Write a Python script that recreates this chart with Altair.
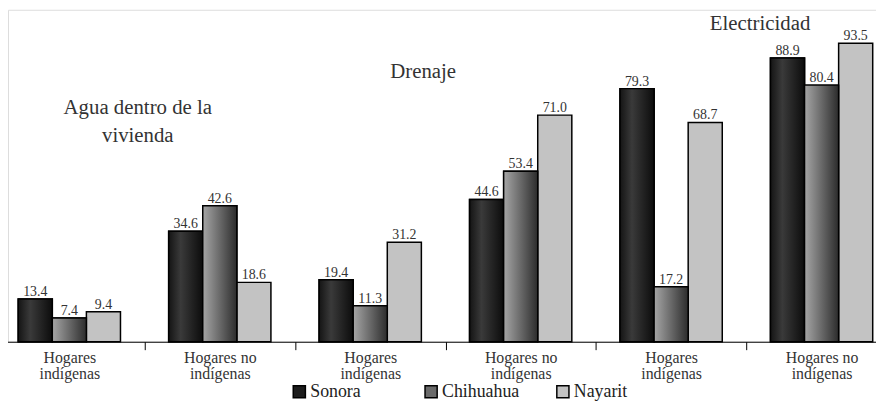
import altair as alt
import pandas as pd

servicios = ["Agua dentro de la vivienda", "Drenaje", "Electricidad"]
hogares = ["Hogares|indígenas", "Hogares no|indígenas"]
estados = ["Sonora", "Chihuahua", "Nayarit"]
# values[servicio][hogar] -> [Sonora, Chihuahua, Nayarit]
agua = [[13.4, 7.4, 9.4], [34.6, 42.6, 18.6]]
drenaje = [[19.4, 11.3, 31.2], [44.6, 53.4, 71.0]]
electricidad = [[79.3, 17.2, 68.7], [88.9, 80.4, 93.5]]
valores = [agua, drenaje, electricidad]
colores = ["#1c1c1c", "#6a6a6a", "#c3c3c3"]

rows = []
orden = []
for s, serv in enumerate(servicios):
    for h, hog in enumerate(hogares):
        key = f"{serv}#{hog}"
        orden.append(key)
        for e, est in enumerate(estados):
            rows.append({"grupo": key, "estado": est, "valor": valores[s][h][e]})
df = pd.DataFrame(rows)

FONT = "Liberation Serif"

x = alt.X(
    "grupo:N",
    sort=orden,
    scale=alt.Scale(range=[-14, 897], paddingInner=0, paddingOuter=0),
    axis=alt.Axis(
        title=None,
        tickBand="extent",
        tickSize=8,
        tickColor="black",
        tickWidth=1,
        domainColor="black",
        domainWidth=1,
        labelExpr="datum.value ? split(split(datum.value, '#')[1], '|') : ''",
        labelFont=FONT,
        labelFontSize=16,
        labelColor="#333333",
        labelPadding=0,
        labelLineHeight=16,
        labelAngle=0,
    ),
)
xo = alt.XOffset("estado:N", sort=estados, scale=alt.Scale(paddingInner=0, paddingOuter=0.707))
y = alt.Y("valor:Q", scale=alt.Scale(domain=[0, 104], nice=False), axis=None)

base = alt.Chart(df).encode(x=x, xOffset=xo, y=y)

bars = base.mark_bar(stroke="black", strokeWidth=1.5).encode(
    color=alt.Color(
        "estado:N",
        sort=estados,
        scale=alt.Scale(domain=estados, range=colores),
        legend=alt.Legend(
            title=None,
            orient="none",
            legendX=285,
            legendY=376,
            direction="horizontal",
            columns=3,
            gridAlign="all",
            columnPadding=34,
            symbolType="square",
            symbolSize=150,
            symbolStrokeColor="black",
            symbolStrokeWidth=1.5,
            labelFont=FONT,
            labelFontSize=18,
            labelColor="#222222",
            labelOffset=2,
        ),
    )
)

grad_sonora = alt.Gradient(
    gradient="linear",
    stops=[
        alt.GradientStop(offset=0, color="#141414"),
        alt.GradientStop(offset=0.35, color="#3a3a3a"),
        alt.GradientStop(offset=1, color="#0c0c0c"),
    ],
    x1=0, x2=1, y1=0, y2=0,
)
grad_chih = alt.Gradient(
    gradient="linear",
    stops=[
        alt.GradientStop(offset=0, color="#a6a6a6"),
        alt.GradientStop(offset=1, color="#2c2c2c"),
    ],
    x1=0, x2=1, y1=0, y2=0,
)
bars_son = base.transform_filter(alt.datum.estado == estados[0]).mark_bar(
    color=grad_sonora, stroke="black", strokeWidth=1.5
)
bars_chi = base.transform_filter(alt.datum.estado == estados[1]).mark_bar(
    color=grad_chih, stroke="black", strokeWidth=1.5
)

labels = base.mark_text(
    baseline="alphabetic", dy=-3, font=FONT, fontSize=14, color="#333333"
).encode(text=alt.Text("valor:Q", format=".1f"))

def titulo(texto, px, py):
    return alt.Chart(pd.DataFrame({"t": [0]})).mark_text(
        font=FONT, fontSize=21, color="#333333", align="center",
        baseline="alphabetic", lineHeight=28, lineBreak="\n",
    ).encode(x=alt.value(px), y=alt.value(py), text=alt.value(texto))

t1 = titulo("Agua dentro de la\nvivienda", 131, 105)
t2 = titulo(servicios[1], 419, 69)
t3 = titulo(servicios[2], 759, 20)

chart = alt.layer(bars, bars_son, bars_chi, labels, t1, t2, t3).properties(
    width=876,
    height=335,
    autosize=alt.AutoSizeParams(type="none"),
    padding={"left": 0, "top": 0, "right": 0, "bottom": 58},
).configure_view(stroke=None).configure(background="white", font=FONT)

chart.save("out.html", embed_options={"renderer": "svg", "actions": False})
